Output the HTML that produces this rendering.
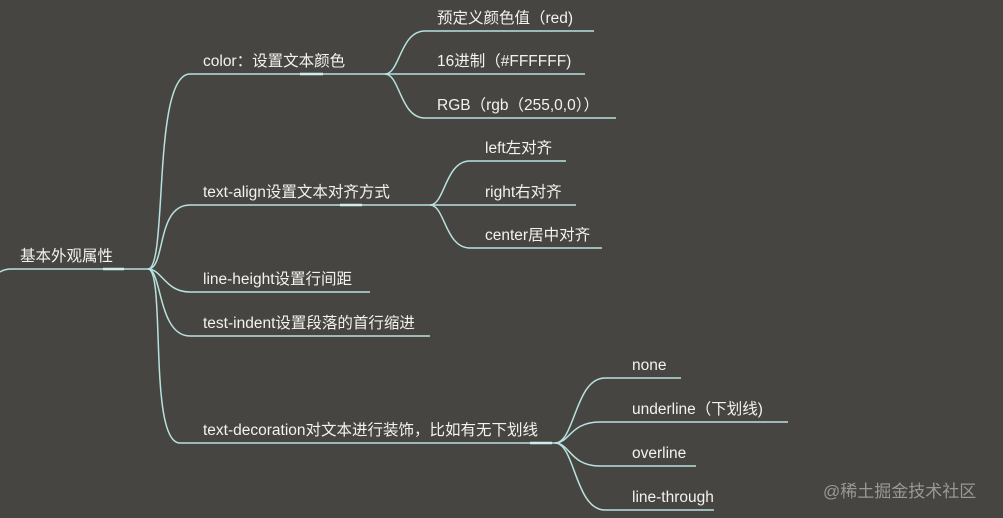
<!DOCTYPE html>
<html><head><meta charset="utf-8"><style>
html,body{margin:0;padding:0;background:#474541;}
svg{display:block}
text{font-family:"Liberation Sans","Noto Sans CJK SC",sans-serif;font-size:15.5px;fill:#f2f2ee;}
.l{stroke:#b8e2df;stroke-width:1.5;fill:none}
</style></head><body>
<svg width="1003" height="518" viewBox="0 0 1003 518" xmlns="http://www.w3.org/2000/svg">
<rect width="1003" height="518" fill="#474541"/>
<path class="l" d="M0 272 Q4 269 12 269 L148 269"/>
<line x1="103" y1="269" x2="124" y2="269" stroke="#cdeeee" stroke-width="2.5"/>
<text x="20" y="261">基本外观属性</text>
<path class="l" d="M148 269 C168 269 152 74 190 74 L355 74"/>
<path class="l" d="M148 269 C166 269 156 205 190 205 L430 205"/>
<path class="l" d="M148 269 C162 269 165 292 190 292 L370 292"/>
<path class="l" d="M148 269 C162 269 158 336 190 336 L430 336"/>
<path class="l" d="M148 269 C166 269 148 443 180 443 L555 443"/>
<line x1="300" y1="74" x2="323" y2="74" stroke="#cdeeee" stroke-width="2.5"/>
<line x1="340" y1="205" x2="362" y2="205" stroke="#cdeeee" stroke-width="2.5"/>
<line x1="530" y1="443" x2="552" y2="443" stroke="#cdeeee" stroke-width="2.5"/>
<text x="203" y="66">color：设置文本颜色</text>
<text x="203" y="197">text-align设置文本对齐方式</text>
<text x="203" y="284">line-height设置行间距</text>
<text x="203" y="328">test-indent设置段落的首行缩进</text>
<text x="203" y="435">text-decoration对文本进行装饰，比如有无下划线</text>
<path class="l" d="M355 74 L385 74 C400 74 400 31 425 31 L594 31"/>
<path class="l" d="M385 74 L585 74"/>
<path class="l" d="M385 74 C400 74 400 118 425 118 L616 118"/>
<text x="437" y="23">预定义颜色值（red)</text>
<text x="437" y="66">16进制（#FFFFFF)</text>
<text x="437" y="110">RGB（rgb（255,0,0））</text>
<path class="l" d="M430 205 C445 205 445 161 470 161 L566 161"/>
<path class="l" d="M430 205 L576 205"/>
<path class="l" d="M430 205 C445 205 445 248 470 248 L602 248"/>
<text x="485" y="153">left左对齐</text>
<text x="485" y="197">right右对齐</text>
<text x="485" y="240">center居中对齐</text>
<path class="l" d="M555 443 C575 443 575 378 605 378 L681 378"/>
<path class="l" d="M555 443 C570 443 570 422 600 422 L788 422"/>
<path class="l" d="M555 443 C570 443 570 466 600 466 L696 466"/>
<path class="l" d="M555 443 C575 443 575 510 605 510 L714 510"/>
<text x="632" y="370">none</text>
<text x="632" y="414">underline（下划线)</text>
<text x="632" y="458">overline</text>
<text x="632" y="502">line-through</text>
<text x="823" y="497" style="font-size:17px;fill:#9a9893">@稀土掘金技术社区</text>
</svg>
</body></html>
